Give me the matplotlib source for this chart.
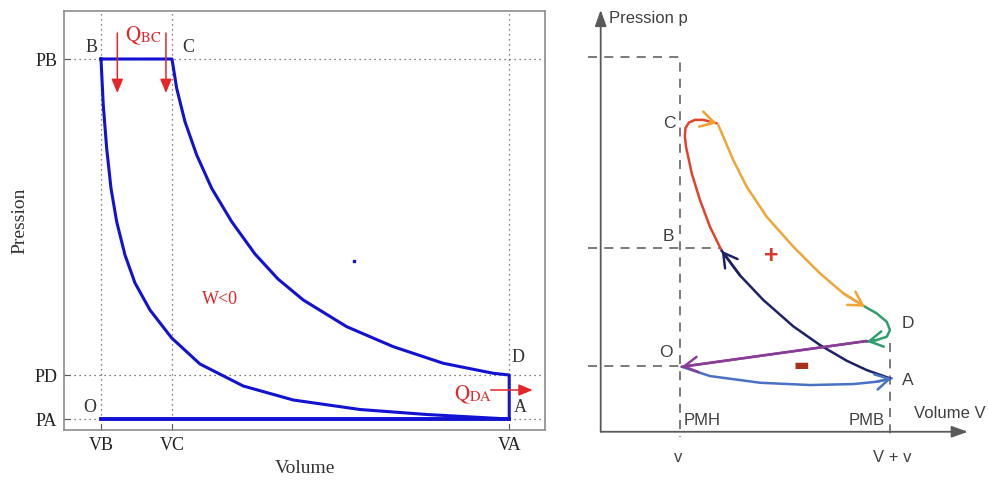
import matplotlib
matplotlib.use('Agg')
import matplotlib.pyplot as plt

plt.rcParams['mathtext.fontset'] = 'stix'

# ---- left panel : theoretical cycle ----
VB, VC, VA = 1.0, 2.0, 6.75
PA, PD, PB = 1.0, 2.1, 10.0

# expansion C -> D
exp_v = [2.0, 2.066, 2.183, 2.348, 2.559, 2.841, 3.169, 3.493, 3.849, 4.461,
         5.117, 5.821, 6.525, 6.75]
exp_p = [10.0, 9.268, 8.433, 7.6, 6.768, 5.933, 5.125, 4.5, 3.975, 3.308,
         2.808, 2.393, 2.143, 2.1]
# compression curve B -> A
comp_v = [1.0, 1.032, 1.080, 1.141, 1.221, 1.338, 1.479, 1.690, 1.996, 2.394,
          3.004, 3.708, 4.648, 5.587, 6.535, 6.75]
comp_p = [10.0, 8.85, 7.768, 6.768, 5.933, 5.1, 4.4, 3.725, 3.025, 2.375,
          1.825, 1.475, 1.2375, 1.1125, 1.02, 1.0]

xticks = [VB, VC, VA]
xtick_labels = ['VB', 'VC', 'VA']
yticks = [PA, PD, PB]
ytick_labels = ['PA', 'PD', 'PB']

# ---- right panel : real cycle (sketch) ----
V_PMH, V_PMB = 1.0, 3.648
P_TOP, P_B, P_O = 5.70, 2.79, 1.0

red_v = [1.526, 1.378, 1.252, 1.148, 1.076, 1.061, 1.069, 1.113, 1.189, 1.290, 1.378, 1.463]
red_p = [2.755, 3.120, 3.527, 3.933, 4.338, 4.501, 4.623, 4.706, 4.747, 4.747, 4.722, 4.694]
orange_v = [1.483, 1.546, 1.672, 1.841, 2.093, 2.429, 2.765, 3.059, 3.333]
orange_p = [4.668, 4.490, 4.135, 3.729, 3.272, 2.816, 2.411, 2.107, 1.903]
green_v = [3.333, 3.480, 3.607, 3.648, 3.607, 3.480, 3.354]
green_p = [1.903, 1.802, 1.674, 1.548, 1.446, 1.396, 1.370]
purple_v = [3.354, 1.021]
purple_p = [1.381, 0.989]
intake_v = [1.021, 1.378, 2.009, 2.640, 3.185, 3.480, 3.670]
intake_p = [0.989, 0.848, 0.746, 0.711, 0.726, 0.761, 0.813]
navy_v = [3.648, 3.354, 3.102, 2.765, 2.429, 2.050, 1.757, 1.526]
navy_p = [0.813, 0.939, 1.081, 1.320, 1.604, 2.006, 2.379, 2.755]

fig = plt.figure(figsize=(9.88, 4.84), dpi=100)

# ================= left =================
ax1 = fig.add_axes([64 / 988, 54 / 484, 481 / 988, 419 / 484])
ax1.set_xlim(0.479, 7.254)
ax1.set_ylim(0.725, 11.2)

serif = 'Liberation Serif'
blue = '#1212d2'
red = '#e3262a'

ax1.set_xticks(xticks)
ax1.set_xticklabels(xtick_labels, family=serif, fontsize=13, color='#222')
ax1.set_yticks(yticks)
ax1.set_yticklabels(ytick_labels, family=serif, fontsize=13, color='#222')
ax1.tick_params(direction='in', length=4, width=0.8, color='#555', pad=5)
ax1.grid(True, linestyle=(0, (1, 3)), color='#555', lw=0.9)
for s in ax1.spines.values():
    s.set_color('#8c8c8c')
    s.set_linewidth(1.2)

loop_v = [VB] + exp_v + comp_v[::-1]
loop_p = [PB] + exp_p + comp_p[::-1]
ax1.plot(loop_v, loop_p, color=blue, lw=2.2, solid_joinstyle='round')
ax1.plot([VB, VA], [PA, PA], color=blue, lw=2.8)
ax1.plot([4.568], [4.96], 's', color=blue, ms=1.5)

ax1.set_xlabel('Volume', family=serif, fontsize=14, color='#333')
ax1.xaxis.set_label_coords(0.5, -0.072)
ax1.set_ylabel('Pression', family=serif, fontsize=14, color='#333')
ax1.yaxis.set_label_coords(-0.075, 0.5)

for lab, x, y in [('B', 0.87, 10.3), ('C', 2.23, 10.3), ('D', 6.87, 2.55),
                  ('A', 6.9, 1.28), ('O', 0.845, 1.28)]:
    ax1.text(x, y, lab, family=serif, fontsize=13, color='#333',
             ha='center', va='center')

ax1.text(1.338, 10.58, r'$\mathrm{Q}_{\mathrm{BC}}$', fontsize=15, color=red,
         ha='left', va='center')
ax1.text(5.97, 1.6, r'$\mathrm{Q}_{\mathrm{DA}}$', fontsize=15, color=red,
         ha='left', va='center')
ax1.text(2.676, 3.975, 'W<0', family=serif, fontsize=13, color=red,
         ha='center', va='center')

arrow_kw = dict(arrowstyle='-|>,head_length=0.6,head_width=0.25', color=red,
                lw=1.1, shrinkA=0, shrinkB=0)
for xv in [1.23, 1.915]:
    ax1.annotate('', xy=(xv, 9.15), xytext=(xv, 10.65),
                 arrowprops=dict(mutation_scale=14, **arrow_kw),
                 annotation_clip=False)
ax1.annotate('', xy=(7.08, 1.725), xytext=(6.49, 1.725),
             arrowprops=dict(mutation_scale=14, **arrow_kw),
             annotation_clip=False)

# ================= right =================
ax2 = fig.add_axes([580 / 988, 0, 408 / 988, 1])
ax2.set_xlim(-0.261, 4.884)
ax2.set_ylim(-0.795, 6.571)
ax2.axis('off')

axis_col = '#5a5a5a'
ax_kw = dict(arrowstyle='-|>,head_length=0.7,head_width=0.25', color=axis_col,
             lw=1.3, shrinkA=0, shrinkB=0, mutation_scale=14)
ax2.annotate('', xy=(0, 6.42), xytext=(0, 0), arrowprops=ax_kw)
ax2.annotate('', xy=(4.63, 0), xytext=(0, 0), arrowprops=ax_kw)

dash = dict(color='#707070', lw=1.3, linestyle=(0, (5, 4)))
left_edge = -0.159
ax2.plot([left_edge, V_PMH, V_PMH], [P_TOP, P_TOP, -0.08], **dash)
ax2.plot([left_edge, 1.505], [P_B, P_B], **dash)
ax2.plot([left_edge, V_PMH], [P_O, P_O], **dash)
ax2.plot([V_PMB, V_PMB], [1.35, -0.08], **dash)


def stroke(vs, ps, col, head=True, head_col=None):
    ax2.plot(vs, ps, color=col, lw=1.8, solid_capstyle='round',
             solid_joinstyle='round')
    if head:
        ax2.annotate('', xy=(vs[-1], ps[-1]), xytext=(vs[-2], ps[-2]),
                     arrowprops=dict(arrowstyle='->,head_length=0.7,head_width=0.4',
                                     color=head_col or col, lw=1.8,
                                     shrinkA=0, shrinkB=0, mutation_scale=14))


stroke(red_v, red_p, '#e2432e', head_col='#f2a02c')
stroke(orange_v, orange_p, '#f0a537')
stroke(green_v, green_p, '#2f9e6e')
stroke(intake_v, intake_p, '#4a72c4')
stroke(purple_v, purple_p, '#8a3d98')
stroke(navy_v, navy_p, '#1d2266')

sans = 'Liberation Sans'
txt = '#404040'
for lab, x, y in [('C', 0.861, 4.696), ('B', 0.849, 2.979), ('O', 0.823, 1.213),
                  ('D', 3.875, 1.655), ('A', 3.875, 0.787)]:
    ax2.text(x, y, lab, family=sans, fontsize=12.5, color=txt, ha='center', va='center')
ax2.text(1.04, 0.178, 'PMH', family=sans, fontsize=12, color=txt, ha='left', va='center')
ax2.text(3.585, 0.178, 'PMB', family=sans, fontsize=12, color=txt, ha='right', va='center')
ax2.text(4.85, 0.285, 'Volume V', family=sans, fontsize=12, color=txt, ha='right', va='center')
ax2.text(0.975, -0.385, 'v', family=sans, fontsize=12, color=txt, ha='center', va='center')
ax2.text(3.674, -0.385, 'V + v', family=sans, fontsize=12, color=txt, ha='center', va='center')
ax2.text(0.11, 6.295, 'Pression p', family=sans, fontsize=12, color=txt, ha='left', va='center')
ax2.text(2.145, 2.674, '+', family=sans, fontsize=18, fontweight='bold', color='#d83a2a',
         ha='center', va='center')
ax2.text(2.535, 1.015, '\u25ac', family='DejaVu Sans', fontsize=12, color='#a8301e',
         ha='center', va='center')

fig.savefig('out.png', dpi=100, facecolor='white')
